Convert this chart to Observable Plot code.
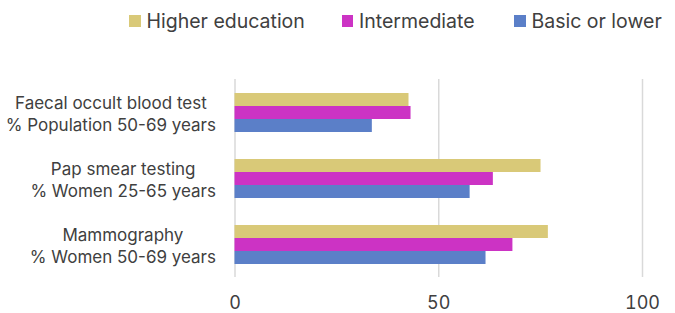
<!DOCTYPE html>
<html>
<head>
<meta charset="utf-8">
<script src="https://cdn.jsdelivr.net/npm/d3@7"></script>
<script src="https://cdn.jsdelivr.net/npm/@observablehq/plot@0.6"></script>
<style>
  html, body { margin: 0; padding: 0; background: #fff; }
  body { width: 675px; height: 313px; overflow: hidden; font-family: "Inter", "Liberation Sans", sans-serif; color: #404040; }
  #legend { position: relative; height: 42px; width: 675px; }
  .item { position: absolute; top: 10px; height: 22px; display: flex; align-items: center; font-size: 19.5px; white-space: nowrap; }
  .sw { width: 11.5px; height: 11.5px; margin-right: 6px; }
  #chart svg { display: block; }
</style>
</head>
<body>
<div id="legend"></div>
<div id="chart"></div>
<script>
const categories = [
  "Faecal occult blood test\n% Population 50-69 years",
  "Pap smear testing\n% Women 25-65 years",
  "Mammography\n% Women 50-69 years"
];
const series = ["Higher education", "Intermediate", "Basic or lower"];
const higher = [42.7, 75.1, 76.9];
const intermediate = [43.2, 63.4, 68.2];
const basic = [33.7, 57.7, 61.6];
const xTicks = [0, 50, 100];
const colors = ["#D9C978", "#CC33C4", "#5B7FC8"];
const legendLeft = [129, 341.5, 514];

const seriesValues = [higher, intermediate, basic];
const data = [];
categories.forEach((c, i) => {
  series.forEach((s, j) => data.push({category: c, series: s, value: seriesValues[j][i]}));
});

const legend = document.getElementById("legend");
series.forEach((s, j) => {
  const it = document.createElement("div");
  it.className = "item";
  it.style.left = legendLeft[j] + "px";
  const sw = document.createElement("span");
  sw.className = "sw";
  sw.style.background = colors[j];
  const t = document.createElement("span");
  t.textContent = s;
  it.appendChild(sw); it.appendChild(t);
  legend.appendChild(it);
});

const chart = Plot.plot({
  width: 675,
  height: 271,
  marginTop: 36,
  marginBottom: 35.5,
  marginLeft: 234.5,
  marginRight: 33,
  style: {fontFamily: "Inter, 'Liberation Sans', sans-serif", color: "#404040", background: "#fff"},
  x: {domain: [0, 100], label: null},
  fy: {domain: categories, padding: 0, label: null},
  y: {domain: series, paddingInner: 0, paddingOuter: 0.93, axis: null},
  color: {domain: series, range: colors},
  marks: [
    Plot.ruleX(xTicks, {stroke: "#d9d9d9", strokeWidth: 1.5}),
    Plot.barX(data, {x: "value", y: "series", fy: "category", fill: "series"}),
    Plot.axisX({ticks: xTicks, tickSize: 0, tickPadding: 19, fontSize: 18, fill: "#404040", label: null}),
    Plot.axisFy({tickSize: 0, fontSize: 17, lineHeight: 1.3, textAnchor: "middle", fill: "#404040", label: null})
  ]
});
document.getElementById("chart").appendChild(chart);

// right-align each two-line label block, keeping its lines centred
const rightEdge = 216;
chart.querySelectorAll('g[aria-label="fy-axis tick label"] text').forEach(t => {
  const b = t.getBBox();
  const ctm = t.getCTM();
  const right = (b.x + b.width) * ctm.a + ctm.e;
  const shift = rightEdge - right;
  const tr = t.getAttribute("transform") || "";
  t.setAttribute("transform", tr + ` translate(${shift},0)`);
});
</script>
</body>
</html>
